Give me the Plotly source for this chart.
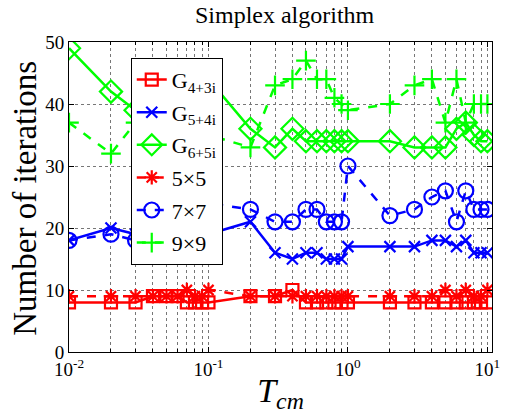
import plotly.graph_objects as go

# Sampling period values (log-spaced grid: 1..9 per decade)
t_cm = [0.01, 0.02, 0.03, 0.04, 0.05, 0.06, 0.07, 0.08, 0.09,
        0.1, 0.2, 0.3, 0.4, 0.5, 0.6, 0.7, 0.8, 0.9,
        1, 2, 3, 4, 5, 6, 7, 8, 9, 10]

# Iteration counts of the simplex algorithm for each problem
g_4_3i = [8, 8, 8, 9, 9, 9, 8, 8, 8,
          8, 9, 9, 10, 8, 8, 8, 8, 8,
          8, 8, 8, 8, 8, 8, 8, 8, 8, 8]
g_5_4i = [18, 20, 19, 16, 16, 16, 16, 17, 18,
          19, 21, 16, 15, 16, 16, 15, 15, 15,
          17, 17, 17, 18, 18, 17, 18, 16, 16, 16]
g_6_5i = [49, 42, 39, 39, 40, 40, 41, 42, 43,
          44, 36, 33, 36, 34, 34, 34, 34, 34,
          34, 34, 33, 33, 33, 36, 37, 35, 34, 34]
m_5x5 = [9, 9, 9, 9, 9, 9, 10, 9, 9,
         10, 9, 9, 9, 9, 9, 9, 9, 9,
         9, 9, 9, 9, 10, 9, 10, 9, 9, 10]
m_7x7 = [18, 19, 18, 18, 18, 19, 20, 21, 22,
         24, 23, 21, 21, 23, 23, 21, 21, 21,
         30, 22, 23, 25, 26, 21, 26, 23, 23, 23]
m_9x9 = [37, 32, 37, 38, 38, 37, 37, 36, 36,
         35, 33, 43, 44, 47, 44, 44, 41, 40,
         39, 40, 43, 44, 37, 44, 37, 40, 40, 40]

x_tick_vals = [0.01, 0.1, 1, 10]
x_tick_text = ["10<sup>-2</sup>", "10<sup>-1</sup>", "10<sup>0</sup>", "10<sup>1</sup>"]
x_minor_vals = [k * d for d in (0.01, 0.1, 1) for k in range(2, 10)]
y_tick_vals = [0, 10, 20, 30, 40, 50]

RED, BLUE, GREEN = "#ff0000", "#0000ff", "#00ff00"
SERIF = "Liberation Serif"

series = [
    ("G<sub>4+3i</sub>", g_4_3i, RED, "solid", "square-open", 12),
    ("G<sub>5+4i</sub>", g_5_4i, BLUE, "solid", "x-thin-open", 11),
    ("G<sub>6+5i</sub>", g_6_5i, GREEN, "solid", "diamond-open", 17),
    ("5×5", m_5x5, RED, "dash", "asterisk-open", 12),
    ("7×7", m_7x7, BLUE, "dash", "circle-open", 15),
    ("9×9", m_9x9, GREEN, "dash", "cross-thin-open", 14),
]

fig = go.Figure()
for i, (name, vals, color, dash, symbol, size) in enumerate(series):
    fig.add_trace(go.Scatter(
        x=t_cm, y=vals, name=name, mode="lines+markers",
        legendgroup=f"g{i}",
        line=dict(color=color, width=2.5, dash=dash),
        marker=dict(symbol=symbol, size=size, color=color,
                    line=dict(color=color, width=2.2)),
    ))

axis_common = dict(
    showline=True, linecolor="black", linewidth=1, mirror="allticks",
    ticks="inside", ticklen=5, tickcolor="black",
    showgrid=True, gridcolor="#777777", griddash="dot", gridwidth=1,
    zeroline=False, ticklabeloverflow="allow",
    tickfont=dict(family=SERIF, size=19, color="black"),
)

fig.update_xaxes(
    type="log", range=[-2, 1.033],
    tickmode="array", tickvals=x_tick_vals, ticktext=x_tick_text,
    minor=dict(tickmode="array", tickvals=x_minor_vals, ticks="inside",
               ticklen=3, tickcolor="black", showgrid=True,
               gridcolor="#777777", griddash="dot", gridwidth=1),
    title=dict(text="<i>T<sub>cm</sub></i>",
               font=dict(family=SERIF, size=34, color="black"), standoff=4),
    **axis_common,
)
fig.update_yaxes(
    range=[0, 50], tickmode="array", tickvals=y_tick_vals,
    **axis_common,
)

# Vertical axis label placed as a rotated annotation
fig.add_annotation(
    text="Number of iterations", textangle=-90,
    xref="paper", yref="paper", x=-0.106, y=0.495,
    xanchor="center", yanchor="middle", showarrow=False,
    font=dict(family=SERIF, size=33, color="black"),
)

fig.update_layout(
    width=506, height=414,
    margin=dict(l=69, r=6, t=42, b=59),
    paper_bgcolor="white", plot_bgcolor="white",
    title=dict(text="Simplex algorithm", x=0.5625, xanchor="center",
               y=0.965, yanchor="middle", yref="container",
               font=dict(family=SERIF, size=24, color="black")),
    showlegend=True,
    legend=dict(x=0.146, y=0.949, xanchor="left", yanchor="top",
                bgcolor="white", bordercolor="black", borderwidth=1,
                font=dict(family=SERIF, size=22, color="black"),
                traceorder="grouped", tracegroupgap=1, itemwidth=30),
)

fig.write_html("out.html")
